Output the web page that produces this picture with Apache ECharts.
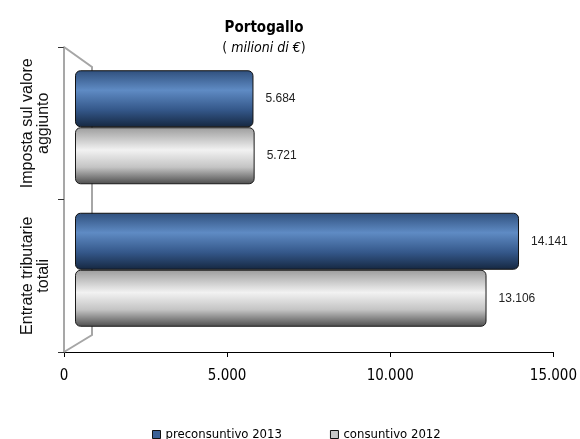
<!DOCTYPE html>
<html>
<head>
<meta charset="utf-8">
<script src="https://cdn.jsdelivr.net/npm/echarts@6/dist/echarts.min.js"></script>
<style>
  html, body { margin: 0; padding: 0; background: #fff; }
  #chart { width: 580px; height: 439px; }
</style>
</head>
<body>
<div id="chart"></div>
<script>
// Categories (bottom to top) and values, in millions of euro
const categories = ['Entrate tributarie\ntotali', 'Imposta sul valore\naggiunto'];
const preconsuntivo2013 = [14141, 5684];
const consuntivo2012 = [13106, 5721];
const seriesNames = ['preconsuntivo 2013', 'consuntivo 2012'];
const xTicks = { min: 0, max: 15000, interval: 5000 };

const condensed = "'DejaVu Sans Condensed', 'DejaVu Sans', sans-serif";

// thousands separator with a dot
function fmt(v) {
  return String(Math.round(v)).replace(/\B(?=(\d{3})+(?!\d))/g, '.');
}

const blueFill = {
  type: 'linear', x: 0, y: 0, x2: 0, y2: 1,
  colorStops: [
    { offset: 0, color: '#2f4f7c' },
    { offset: 0.35, color: '#5f8bc4' },
    { offset: 0.7, color: '#345789' },
    { offset: 1, color: '#152740' }
  ]
};
const greyFill = {
  type: 'linear', x: 0, y: 0, x2: 0, y2: 1,
  colorStops: [
    { offset: 0, color: '#9c9c9c' },
    { offset: 0.4, color: '#f2f2f2' },
    { offset: 0.7, color: '#c4c4c4' },
    { offset: 1, color: '#4c4c4c' }
  ]
};

const valueLabel = {
  show: true,
  position: 'right',
  distance: 12,
  fontFamily: "'Liberation Sans', Arial, sans-serif",
  fontSize: 12,
  color: '#222',
  formatter: p => fmt(p.value)
};

const chart = echarts.init(document.getElementById('chart'), null, { renderer: 'canvas' });

chart.setOption({
  animation: false,
  backgroundColor: '#ffffff',
  title: {
    left: 259,
    top: 13,
    textAlign: 'center',
    text: '{b|Portogallo}\n{n|( }{i|milioni di €}{n|)}',
    textStyle: {
      fontWeight: 'normal',
      rich: {
        b: { fontFamily: condensed, fontWeight: 'bold', fontSize: 15, color: '#000', lineHeight: 20 },
        n: { fontFamily: condensed, fontWeight: 'normal', fontSize: 14, color: '#000', lineHeight: 20 },
        i: { fontFamily: condensed, fontWeight: 'normal', fontStyle: 'italic', fontSize: 14, color: '#000', lineHeight: 20 }
      }
    }
  },
  legend: {
    left: 147,
    top: 423,
    itemWidth: 8,
    itemHeight: 8,
    itemGap: 48,
    icon: 'rect',
    textStyle: { fontFamily: condensed, fontSize: 13, color: '#000' },
    data: [
      { name: seriesNames[0], itemStyle: { color: '#3b6196', borderColor: '#111', borderWidth: 1 } },
      { name: seriesNames[1], itemStyle: { color: '#c8c8c8', borderColor: '#111', borderWidth: 1 } }
    ]
  },
  grid: [
    // front axes
    { left: 64, right: 24, top: 47, bottom: 87 },
    // bar plane, set back in depth
    { left: 75, right: 34, top: 56, height: 285 }
  ],
  xAxis: [
    {
      gridIndex: 0,
      type: 'value',
      min: xTicks.min, max: xTicks.max, interval: xTicks.interval,
      axisLine: { show: true, lineStyle: { color: '#000', width: 1 } },
      axisTick: { show: true, length: 5, lineStyle: { color: '#000' } },
      axisLabel: { margin: 17, fontFamily: condensed, fontSize: 15, color: '#000', formatter: v => fmt(v) },
      splitLine: { show: false }
    },
    {
      gridIndex: 1,
      type: 'value',
      min: xTicks.min, max: xTicks.max,
      show: false,
      splitLine: { show: false }
    }
  ],
  yAxis: [
    {
      gridIndex: 0,
      type: 'category',
      data: categories,
      axisLine: { show: true, lineStyle: { color: '#8a8a8a', width: 1.5 } },
      axisTick: { show: true, length: 6, lineStyle: { color: '#333' } },
      axisLabel: {
        interval: 0,
        rotate: 90,
        margin: 12,
        fontFamily: "'Liberation Sans', Arial, sans-serif",
        fontSize: 16,
        lineHeight: 16,
        color: '#111'
      }
    },
    {
      gridIndex: 1,
      type: 'category',
      data: categories,
      show: false
    }
  ],
  graphic: [
    // side wall of the 3D frame
    { type: 'polyline', z: 1, silent: true,
      shape: { points: [[64, 47], [92, 67], [92, 335], [64, 352]] },
      style: { stroke: '#a6a6a6', lineWidth: 2, fill: null } }
  ],
  series: [
    {
      name: seriesNames[0],
      type: 'bar',
      xAxisIndex: 1, yAxisIndex: 1,
      data: preconsuntivo2013,
      barGap: '0%',
      barCategoryGap: '20%',
      z: 3,
      itemStyle: { color: blueFill, borderColor: '#111', borderWidth: 1, borderRadius: 5 },
      label: valueLabel
    },
    {
      name: seriesNames[1],
      type: 'bar',
      xAxisIndex: 1, yAxisIndex: 1,
      data: consuntivo2012,
      barGap: '0%',
      barCategoryGap: '20%',
      z: 3,
      itemStyle: { color: greyFill, borderColor: '#1a1a1a', borderWidth: 1, borderRadius: 5 },
      label: valueLabel
    }
  ]
});
</script>
</body>
</html>
